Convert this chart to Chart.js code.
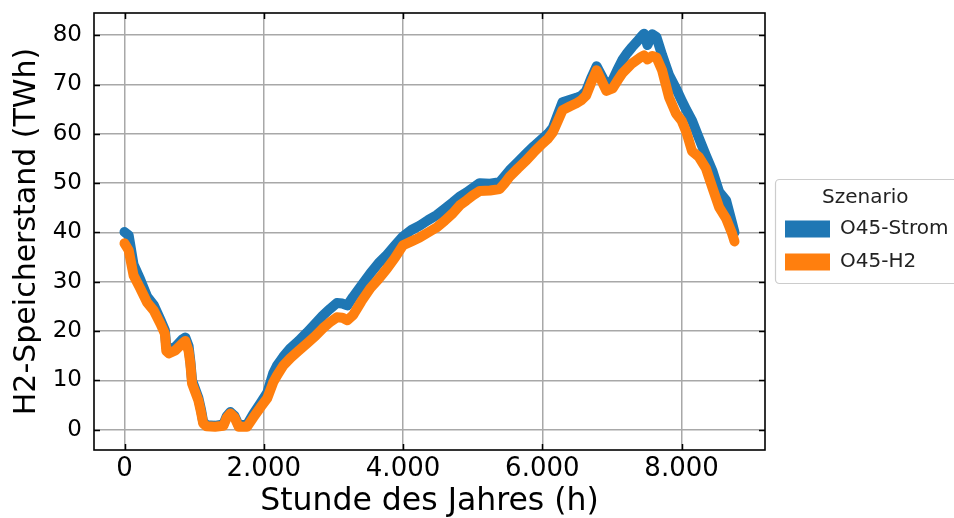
<html>
<head>
    <script src="https://cdn.jsdelivr.net/npm/chart.js@4.4.3/dist/chart.umd.min.js"></script>
    <style>
        html, body { margin: 0; background: #fff; overflow: hidden; }
        #wrap { position: relative; width: 970px; height: 518px; }
    </style>
</head>
<body>
<div id="wrap"><canvas id="mychart"></canvas></div>
<script>
    // Stunde des Jahres
    const hours = [
        0, 60, 130, 225, 325, 420, 516, 580, 600, 635,
        730, 830, 874, 920, 945, 970, 1060, 1100, 1130, 1180,
        1300, 1420, 1470, 1520, 1580, 1640, 1760, 1850, 1950, 2050,
        2135, 2190, 2280, 2380, 2500, 2620, 2740, 2850, 2950, 3050,
        3130, 3200, 3280, 3400, 3530, 3650, 3770, 3880, 4000, 4120,
        4240, 4360, 4480, 4600, 4715, 4815, 4910, 5000, 5100, 5250,
        5387, 5460, 5530, 5650, 5770, 5880, 6000, 6080, 6150, 6220,
        6290, 6400, 6490, 6560, 6630, 6700, 6780, 6850, 6920, 7010,
        7080, 7150, 7220, 7290, 7360, 7420, 7460, 7510, 7580, 7640,
        7720, 7820, 7920, 8000, 8070, 8150, 8250, 8350, 8440, 8540,
        8640, 8725, 8760
    ];
    // H2-Speicherstand (TWh), Szenario O45-Strom
    const o45Strom = [
        40.1, 39.4, 33.5, 30.5, 27, 25.3, 22.3, 20.2, 16.8, 16.2,
        16.8, 18.3, 18.7, 17, 14, 10, 6.5, 4, 1.6, 0.9,
        0.8, 1.1, 2.8, 3.6, 2.8, 0.9, 1, 3.2, 5.3, 7.5,
        11.4, 13, 14.8, 16.5, 18, 19.7, 21.5, 23.2, 24.5, 25.7,
        25.6, 25.2, 26.9, 29.2, 31.7, 33.8, 35.5, 37.3, 39.2, 40.5,
        41.4, 42.5, 43.5, 44.8, 46.1, 47.3, 48.1, 49, 50, 49.9,
        50.2, 51.4, 52.6, 54.3, 56, 57.5, 59, 60, 61.2, 63.8,
        66.4, 66.9, 67.3, 67.7, 68.7, 71.2, 73.7, 71.8, 69.9, 70.9,
        73, 75, 76.4, 77.6, 78.7, 79.7, 80.3, 78, 80.2, 79.6,
        76, 71.9, 69.2, 66.8, 64.8, 62.7, 59.1, 55.6, 52.6, 48.2,
        46.5, 41.9, 40
    ];
    // H2-Speicherstand (TWh), Szenario O45-H2
    const o45H2 = [
        37.8, 36.4, 31.3, 28.7, 25.8, 24.2, 21.5, 19.5, 16, 15.5,
        16.1, 17.5, 18, 16, 13.5, 9.4, 6, 3.5, 1.3, 0.7,
        0.6, 0.8, 2.5, 3.3, 2.5, 0.6, 0.6, 2.5, 4.5, 6.4,
        9.6, 11, 13, 14.5, 16, 17.5, 19, 20.6, 21.8, 22.8,
        22.7, 22.2, 23.2, 26, 28.7, 30.6, 32.7, 34.8, 37.4, 38.2,
        39, 40, 41, 42.4, 43.9, 45.5, 46.5, 47.5, 48.4, 48.5,
        48.8, 50, 51.3, 53, 54.6, 56.3, 58, 59, 60.3, 62.5,
        64.8, 65.6, 66.2, 66.8, 67.8, 70.3, 72.9, 70.8, 68.7, 69.2,
        70.8, 72.3, 73.3, 74.3, 75, 75.6, 75.9, 75.1, 75.8, 75.5,
        72.9, 67.4, 64.1, 62.7, 60.3, 56.5, 55.3, 53, 49.2, 45.1,
        42.8, 39.8, 38.2
    ];
    const xTicks = [0, 2000, 4000, 6000, 8000];
    const yTicks = [0, 10, 20, 30, 40, 50, 60, 70, 80];

    const FONT = 'DejaVu Sans';
    const BLUE = '#1f77b4', ORANGE = '#ff7f0e';

    // legend width is text driven, so work out the padding that keeps the plot edge at 765
    // (canvas is a bit wider than the window, the legend runs off the edge like in the original)
    const CW = 970;
    let mctx = document.createElement('canvas').getContext('2d');
    mctx.font = '20px ' + FONT;
    const legendW = 13 + 45 + 10 + mctx.measureText('O45-Strom').width + 10;
    const gapW = 7;
    const padRight = Math.max(0, CW - 765 - gapW - legendW);

    function fmt(v) {
        return String(v).replace(/\B(?=(\d{3})+(?!\d))/g, '.');
    }
    function toPoints(vals) {
        return hours.map((h, i) => ({x: h, y: vals[i]}));
    }

    // frame round the legend (matplotlib style)
    const legendFrame = {
        id: 'legendFrame',
        beforeDraw(chart) {
            let hb = chart.legend.legendHitBoxes;
            if (!hb || !hb.length) return;
            let c = chart.ctx;
            let x0 = hb[0].left - 10, y0 = hb[0].top - 40;
            let y1 = hb[hb.length - 1].top + hb[hb.length - 1].height + 11;
            c.save();
            c.strokeStyle = '#cccccc';
            c.lineWidth = 1.2;
            c.beginPath();
            c.roundRect(x0 + 0.5, y0 + 0.5, chart.width + 30 - x0, y1 - y0, 4);
            c.stroke();
            c.restore();
        }
    };

    // inward tick marks on all four sides plus the axes frame
    const axesFrame = {
        id: 'axesFrame',
        afterDatasetsDraw(chart) {
            let c = chart.ctx;
            let a = chart.chartArea;
            let sx = chart.scales.x, sy = chart.scales.y;
            c.save();
            c.strokeStyle = '#000';
            c.lineWidth = 1.5;
            c.beginPath();
            xTicks.forEach(v => {
                let px = Math.round(sx.getPixelForValue(v)) + 0.5;
                c.moveTo(px, a.bottom); c.lineTo(px, a.bottom - 6);
                c.moveTo(px, a.top); c.lineTo(px, a.top + 6);
            });
            yTicks.forEach(v => {
                let py = Math.round(sy.getPixelForValue(v)) + 0.5;
                c.moveTo(a.left, py); c.lineTo(a.left + 6, py);
                c.moveTo(a.right, py); c.lineTo(a.right - 6, py);
            });
            c.stroke();
            c.lineWidth = 1.6;
            c.strokeRect(a.left, a.top, a.right - a.left, a.bottom - a.top);
            c.restore();
        }
    };

    let datainfo = {
        datasets: [
            {
                label: 'O45-Strom',
                data: toPoints(o45Strom),
                borderColor: BLUE,
                backgroundColor: BLUE,
                order: 2
            },
            {
                label: 'O45-H2',
                data: toPoints(o45H2),
                borderColor: ORANGE,
                backgroundColor: ORANGE,
                order: 1
            }
        ]
    };
    datainfo.datasets.forEach(d => {
        d.borderWidth = 10;
        d.pointRadius = 0;
        d.tension = 0;
        d.borderJoinStyle = 'round';
        d.borderCapStyle = 'round';
        d.yAxisID = 'y';
    });

    let config = {
        type: 'line',
        data: datainfo,
        options: {
            responsive: true,
            maintainAspectRatio: false,
            animation: false,
            devicePixelRatio: 1,
            layout: {padding: {top: 13, right: padRight, bottom: 0, left: 0}},
            plugins: {
                tooltip: {enabled: false},
                legend: {
                    position: 'right',
                    fullSize: false,
                    align: 'center',
                    maxWidth: 400,
                    title: {
                        display: true,
                        text: 'Szenario',
                        color: '#222',
                        font: {family: FONT, size: 20, lineHeight: 0.9},
                        padding: {top: 10, bottom: 0}
                    },
                    labels: {
                        boxWidth: 45,
                        boxHeight: 17,
                        padding: 13,
                        color: '#222',
                        font: {family: FONT, size: 20},
                        sort: (a, b) => a.datasetIndex - b.datasetIndex,
                        generateLabels: chart => Chart.defaults.plugins.legend.labels.generateLabels(chart)
                            .map(l => Object.assign(l, {lineWidth: 0}))
                    }
                }
            },
            scales: {
                x: {
                    type: 'linear',
                    position: 'bottom',
                    min: -438,
                    max: 9198,
                    afterBuildTicks: s => { s.ticks = xTicks.map(v => ({value: v})); },
                    afterFit: s => { s.height = 68; s.paddingLeft = 0; s.paddingRight = 0; },
                    grid: {color: '#a8a8a8', lineWidth: 1.5, drawTicks: false},
                    border: {display: false},
                    ticks: {
                        color: '#000',
                        padding: 4,
                        maxRotation: 0,
                        font: {family: FONT, size: 26},
                        callback: v => fmt(v)
                    },
                    title: {
                        display: true,
                        text: 'Stunde des Jahres (h)',
                        color: '#000',
                        font: {family: FONT, size: 31.5, lineHeight: 1},
                        padding: {top: 0, bottom: 0}
                    }
                },
                y: {
                    type: 'linear',
                    position: 'left',
                    min: -4.1,
                    max: 84.5,
                    afterBuildTicks: s => { s.ticks = yTicks.map(v => ({value: v})); },
                    afterFit: s => { s.width = 94; s.paddingTop = 0; s.paddingBottom = 0; },
                    grid: {color: '#a8a8a8', lineWidth: 1.5, drawTicks: false},
                    border: {display: false},
                    ticks: {
                        color: '#000',
                        padding: 12,
                        font: {family: FONT, size: 23}
                    },
                    title: {
                        display: true,
                        text: 'H2-Speicherstand (TWh)',
                        color: '#000',
                        font: {family: FONT, size: 30, lineHeight: 1},
                        padding: {top: 12, bottom: 0}
                    }
                },
                y2: {
                    type: 'linear',
                    position: 'right',
                    afterFit: s => { s.width = gapW; s.paddingTop = 0; s.paddingBottom = 0; },
                    grid: {display: false},
                    border: {display: false},
                    ticks: {display: false}
                }
            }
        },
        plugins: [legendFrame, axesFrame]
    };

    new Chart(document.getElementById('mychart'), config);
</script>
</body>
</html>
